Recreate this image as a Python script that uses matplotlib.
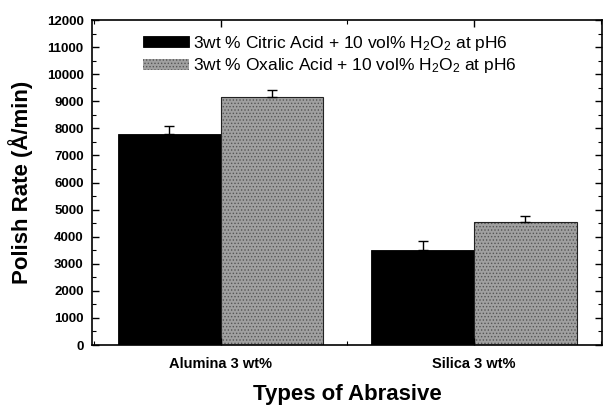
import numpy as np
import matplotlib
matplotlib.use('Agg')
import matplotlib.pyplot as plt
from matplotlib.ticker import MultipleLocator

# data
categories = ['Alumina 3 wt%', 'Silica 3 wt%']
citric = [7800, 3500]
citric_err = [300, 350]
oxalic = [9170, 4550]
oxalic_err = [250, 220]
series_labels = ['3wt % Citric Acid + 10 vol% H$_2$O$_2$ at pH6',
                 '3wt % Oxalic Acid + 10 vol% H$_2$O$_2$ at pH6']


def run():
    plt.rcParams['font.family'] = ['Liberation Sans', 'DejaVu Sans']
    plt.rcParams['mathtext.default'] = 'regular'
    plt.rcParams['hatch.linewidth'] = 0.6

    fig = plt.figure(figsize=(6.05, 4.05), dpi=100)
    ax = fig.add_axes([92 / 605, 1 - 345 / 405, 510 / 605, 325 / 405])

    x = np.arange(len(categories))
    w = 0.405
    ax.bar(x - w / 2, citric, w, color='black', edgecolor='black', linewidth=0.6,
           label=series_labels[0])
    ax.bar(x + w / 2, oxalic, w, color='#a0a0a0', edgecolor='#555555', hatch='.....',
           linewidth=0.0, label=series_labels[1])
    # outline for the grey bars
    ax.bar(x + w / 2, oxalic, w, fill=False, edgecolor='#222222', linewidth=0.8)
    # one-sided (upper) error bars
    ax.errorbar(x - w / 2, citric, yerr=[np.zeros(2), citric_err], fmt='none',
                ecolor='black', elinewidth=1.0, capsize=3.5, capthick=1.0)
    ax.errorbar(x + w / 2, oxalic, yerr=[np.zeros(2), oxalic_err], fmt='none',
                ecolor='black', elinewidth=1.0, capsize=3.5, capthick=1.0)

    ax.set_xlim(-0.508, 1.505)
    ax.set_ylim(0, 12000)
    ax.yaxis.set_major_locator(MultipleLocator(1000))
    ax.yaxis.set_minor_locator(MultipleLocator(500))
    ax.set_xticks(x)
    ax.set_xticklabels(categories, fontsize=10.5, fontweight='bold')
    ax.xaxis.set_minor_locator(MultipleLocator(0.5))
    ax.tick_params(axis='both', which='major', direction='in', length=5, width=1.0,
                   top=True, right=True)
    ax.tick_params(axis='both', which='minor', direction='in', length=3, width=0.8,
                   top=True, right=True)
    ax.tick_params(axis='y', labelsize=9.5, pad=6)
    ax.tick_params(axis='x', pad=9)
    for lab in ax.get_yticklabels():
        lab.set_fontweight('bold')
    for s in ax.spines.values():
        s.set_linewidth(1.2)

    ax.set_ylabel('Polish Rate (Å/min)', fontsize=16, fontweight='bold', labelpad=10)
    ax.set_xlabel('Types of Abrasive', fontsize=16, fontweight='bold', labelpad=9)

    ax.legend(loc='upper left', bbox_to_anchor=(0.1, 0.957), frameon=False,
              borderpad=0, borderaxespad=0,
              fontsize=12.5, handlelength=2.65, handleheight=0.62, handletextpad=0.25,
              labelspacing=0.2)

    fig.savefig('out.png', dpi=100)


if __name__ == '__main__':
    run()
